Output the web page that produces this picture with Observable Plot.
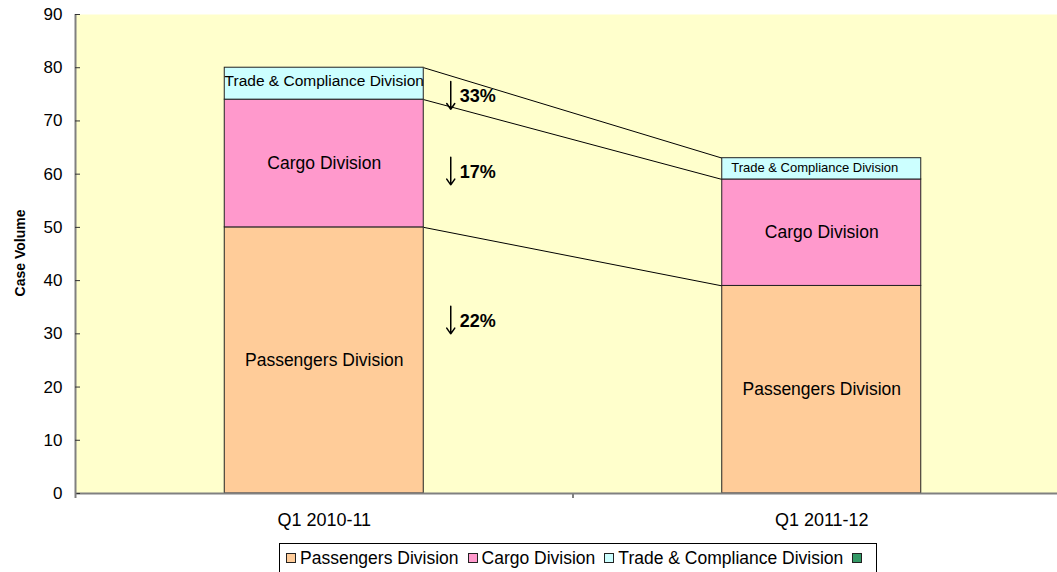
<!DOCTYPE html>
<html>
<head>
<meta charset="utf-8">
<script src="https://cdn.jsdelivr.net/npm/d3@7"></script>
<script src="https://cdn.jsdelivr.net/npm/@observablehq/plot@0.6"></script>
<style>
  html, body { margin: 0; padding: 0; background: #fff; overflow: hidden; }
  #wrap { position: relative; width: 1057px; height: 572px; font-family: "Liberation Sans", Arial, sans-serif; }
  #legend { position: absolute; left: 279px; top: 543px; width: 598px; height: 32px; border: 1px solid #000; box-sizing: border-box;
            display: flex; align-items: center; padding-left: 6px; font-size: 17.5px; color: #000; white-space: nowrap; padding-bottom: 2px; }
  .sw { display: inline-block; width: 8px; height: 8px; border: 1px solid #222; margin-right: 4px; }
  .it { display: inline-flex; align-items: center; margin-right: 9px; }
  #ytitle { position: absolute; left: 20px; top: 253px; transform: translate(-50%, -50%) rotate(-90deg);
            font-weight: bold; font-size: 14px; white-space: nowrap; color: #000; }
</style>
</head>
<body>
<div id="wrap"><div id="chart"></div><div id="ytitle">Case Volume</div><div id="legend"></div></div>
<script>
// ---- data ----
const categories = ["Q1 2010-11", "Q1 2011-12"];
const divisions = ["Passengers Division", "Cargo Division", "Trade & Compliance Division"];
const passengers = [50, 39];
const cargo = [24, 20];
const trade = [6, 4];
const divisionColors = ["#FFCC99", "#FF99CC", "#CCFFFF"];
const extraLegendColor = "#339966";
const yTicks = [0, 10, 20, 30, 40, 50, 60, 70, 80, 90];
const changeLabelAt = [32.4, 60.4, 74.6]; // y position (in volume units) of the % change annotations

// ---- derived ----
const series = [passengers, cargo, trade];
const rows = [];
categories.forEach((c, i) => {
  let base = 0;
  series.forEach((s, k) => {
    rows.push({i, category: c, division: divisions[k], value: s[i], y1: base, y2: base + s[i]});
    base += s[i];
  });
});
const BAR = 0.4; // bar width as fraction of category step
const tops = series.map((s, k) => categories.map((c, i) => d3.sum(series.slice(0, k + 1), t => t[i])));
const connectors = tops.map(t => ({a: t[0], b: t[1]}));
const changes = series.map((s, k) => ({
  pct: Math.round(Math.abs((s[1] - s[0]) / s[0]) * 100) + "%",
  y: changeLabelAt[k]
}));

const font = "Liberation Sans, Arial, sans-serif";
const plot = Plot.plot({
  width: 1057,
  height: 540,
  marginTop: 14,
  marginBottom: 47,
  marginLeft: 75,
  marginRight: 0,
  style: {fontFamily: font, fontSize: "17px", background: "white", color: "black", overflow: "hidden"},
  x: {type: "linear", domain: [-0.5, 1.5], range: [75, 1070], axis: null},
  y: {domain: [0, 90], axis: null},
  color: {domain: divisions, range: divisionColors},
  marks: [
    Plot.frame({fill: "#FFFFCC", stroke: "none"}),
    Plot.link(connectors, {x1: () => 0 + BAR / 2, x2: () => 1 - BAR / 2, y1: "a", y2: "b", stroke: "#000", strokeWidth: 1}),
    Plot.rectY(rows, {x1: d => d.i - BAR / 2, x2: d => d.i + BAR / 2, y1: "y1", y2: "y2", fill: "division", stroke: "#222", strokeWidth: 1}),
    Plot.text(rows.filter(d => d.division !== divisions[2]), {x: "i", y: d => (d.y1 + d.y2) / 2, text: "division", fontSize: 17.5, fill: "#000"}),
    Plot.text(rows.filter(d => d.division === divisions[2] && d.i === 0), {x: "i", y: d => (d.y1 + d.y2) / 2, text: "division", fontSize: 15.5, dy: -3, fill: "#000"}),
    Plot.text(rows.filter(d => d.division === divisions[2] && d.i === 1), {x: "i", y: d => (d.y1 + d.y2) / 2, text: "division", fontSize: 13, dx: -7, dy: -1, fill: "#000"}),
    Plot.arrow(changes, {x1: () => BAR / 2, x2: () => BAR / 2, y1: d => d.y + 2.8, y2: d => d.y - 2.4, dx: 27, stroke: "#000", strokeWidth: 1.5, headLength: 7, headAngle: 70, bend: 0}),
    Plot.text(changes, {x: () => BAR / 2, y: "y", text: "pct", dx: 36, textAnchor: "start", fontWeight: "bold", fontSize: 18, fill: "#000"}),
    Plot.ruleX([-0.5], {stroke: "#808080", strokeWidth: 2}),
    Plot.ruleY([0], {stroke: "#808080", strokeWidth: 2}),
    Plot.axisY({ticks: yTicks, tickSize: -5, tickPadding: 18, stroke: "#333", fontSize: 17, label: null}),
    Plot.axisX({ticks: [-0.5, 0.5, 1.5], tickSize: 5, tickFormat: () => "", stroke: "#808080", strokeWidth: 2, label: null}),
    Plot.axisX({ticks: [0, 1], tickSize: 0, tickPadding: 20, tickFormat: i => categories[i], fontSize: 18, label: null})
  ]
});
document.getElementById("chart").appendChild(plot);

// legend
const lg = document.getElementById("legend");
divisions.forEach((d, k) => {
  const it = document.createElement("span");
  it.className = "it";
  it.innerHTML = `<span class="sw" style="background:${divisionColors[k]}"></span>`;
  it.appendChild(document.createTextNode(d));
  lg.appendChild(it);
});
const ex = document.createElement("span");
ex.className = "it";
ex.innerHTML = `<span class="sw" style="background:${extraLegendColor}"></span>`;
lg.appendChild(ex);
</script>
</body>
</html>
